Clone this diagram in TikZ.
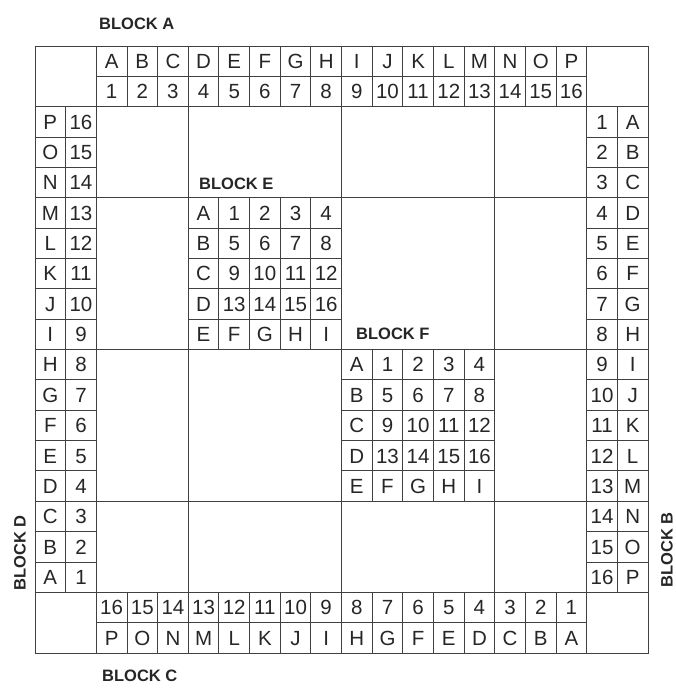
\documentclass[tikz,border=0pt]{standalone}
\usepackage{fontspec}
\setmainfont{Liberation Sans}
\begin{document}
\begin{tikzpicture}[
  gridline/.style={draw=black!75, line width=0.9pt},
  cell/.style={inner sep=0pt, text height=14.6pt, text depth=0pt, text=black!85,
    font=\fontsize{20.5}{24}\selectfont},
  blocklabel/.style={inner sep=0pt, text=black!85, font=\fontsize{16.5}{20}\bfseries\selectfont}
]
\useasboundingbox (0pt,0pt) rectangle (676pt,-697pt);
% labels (pixel coordinates)
\node[blocklabel, anchor=west] (labA) at (99pt,-24pt) {BLOCK A};
\node[blocklabel, anchor=west] (labC) at (102pt,-676pt) {BLOCK C};
\node[blocklabel, anchor=west] (labE) at (199pt,-184pt) {BLOCK E};
\node[blocklabel, anchor=west] (labF) at (356pt,-334pt) {BLOCK F};
\node[blocklabel, rotate=90] (labD) at (20pt,-553pt) {BLOCK D};
\node[blocklabel, rotate=90] (labB) at (667pt,-550pt) {BLOCK B};
\begin{scope}[shift={(35pt,-46pt)}, x=30.65pt, y=-30.35pt]
  % outer frame and full-length lines
  \draw[gridline] (0,0) rectangle (20,20);
  \foreach \k in {2,5,10,15,18} {
    \draw[gridline] (0,\k) -- (20,\k);
    \draw[gridline] (\k,0) -- (\k,20);
  }
  % top and bottom blocks
  \draw[gridline] (2,1) -- (18,1);
  \draw[gridline] (2,19) -- (18,19);
  \foreach \k in {3,...,17} {
    \draw[gridline] (\k,0) -- (\k,2);
    \draw[gridline] (\k,18) -- (\k,20);
    \draw[gridline] (0,\k) -- (2,\k);
    \draw[gridline] (18,\k) -- (20,\k);
  }
  % left and right blocks
  \draw[gridline] (1,2) -- (1,18);
  \draw[gridline] (19,2) -- (19,18);
  % blocks E and F
  \foreach \k in {6,...,9} {
    \draw[gridline] (\k,5) -- (\k,10);
    \draw[gridline] (5,\k) -- (10,\k);
  }
  \foreach \k in {11,...,14} {
    \draw[gridline] (\k,10) -- (\k,15);
    \draw[gridline] (10,\k) -- (15,\k);
  }
  % top block texts
  \foreach \L [count=\i] in {A,B,C,D,E,F,G,H,I,J,K,L,M,N,O,P} {
    \node[cell] (tl\i) at (\i+1.5,0.5) {\L};
    \node[cell] (tn\i) at (\i+1.5,1.5) {\i};
  }
  % right block texts
  \foreach \L [count=\i] in {A,B,C,D,E,F,G,H,I,J,K,L,M,N,O,P} {
    \node[cell] (rn\i) at (18.5,\i+1.5) {\i};
    \node[cell] (rl\i) at (19.5,\i+1.5) {\L};
  }
  % left block texts
  \foreach \L [count=\i] in {P,O,N,M,L,K,J,I,H,G,F,E,D,C,B,A} {
    \pgfmathtruncatemacro{\n}{17-\i}
    \node[cell] (ll\i) at (0.5,\i+1.5) {\L};
    \node[cell] (ln\i) at (1.5,\i+1.5) {\n};
  }
  % bottom block texts
  \foreach \L [count=\i] in {P,O,N,M,L,K,J,I,H,G,F,E,D,C,B,A} {
    \pgfmathtruncatemacro{\n}{17-\i}
    \node[cell] (bn\i) at (\i+1.5,18.5) {\n};
    \node[cell] (bl\i) at (\i+1.5,19.5) {\L};
  }
  % blocks E and F texts
  \foreach \ox/\oy/\nm in {5/5/e,10/10/f} {
    \foreach \r/\row in {0/{A,1,2,3,4},1/{B,5,6,7,8},2/{C,9,10,11,12},3/{D,13,14,15,16},4/{E,F,G,H,I}} {
      \foreach \t [count=\c] in \row {
        \node[cell] (\nm\r-\c) at (\ox+\c-0.5,\oy+\r+0.5) {\t};
      }
    }
  }
\end{scope}
\end{tikzpicture}
\end{document}
